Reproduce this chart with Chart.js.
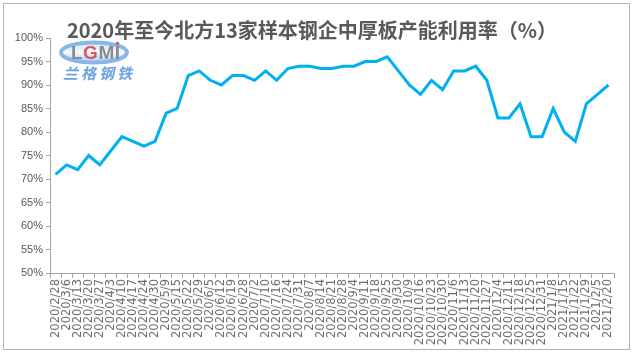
<!DOCTYPE html>
<html>
<head>
<meta charset="utf-8">
<script src="https://cdn.jsdelivr.net/npm/chart.js@4"></script>
<style>
  html, body { margin: 0; padding: 0; background: #fff; }
  canvas { display: block; }
</style>
</head>
<body>
<canvas id="utilChart" width="633" height="356"></canvas>
<script>
// weekly sample dates
const weeks = [
    '2020/2/28', '2020/3/6', '2020/3/13', '2020/3/20', '2020/3/27', '2020/4/3', '2020/4/10',
    '2020/4/17', '2020/4/24', '2020/4/30', '2020/5/9', '2020/5/15', '2020/5/22', '2020/5/29',
    '2020/6/5', '2020/6/12', '2020/6/19', '2020/6/28', '2020/7/2', '2020/7/10', '2020/7/16',
    '2020/7/24', '2020/7/31', '2020/8/7', '2020/8/14', '2020/8/21', '2020/8/28', '2020/9/4',
    '2020/9/11', '2020/9/18', '2020/9/25', '2020/9/30', '2020/10/9', '2020/10/16', '2020/10/23',
    '2020/10/30', '2020/11/6', '2020/11/13', '2020/11/20', '2020/11/27', '2020/12/4', '2020/12/11',
    '2020/12/18', '2020/12/25', '2020/12/31', '2021/1/8', '2021/1/15', '2021/1/22', '2021/1/29',
    '2021/2/5', '2021/2/20'
];

// capacity utilisation, %
const utilisation = [
    71, 73, 72, 75, 73, 76, 79, 78, 77, 78,
    84, 85, 92, 93, 91, 90, 92, 92, 91, 93,
    91, 93.5, 94, 94, 93.5, 93.5, 94, 94, 95, 95,
    96, 93, 90, 88, 91, 89, 93, 93, 94, 91,
    83, 83, 86, 79, 79, 85, 80, 78, 86, 88, 90
];

const yMin = 50;
const yMax = 100;
const yStep = 5;

const chartTitle = '2020年至今北方13家样本钢企中厚板产能利用率（%）';
const logoText = 'LGMI';
const logoName = '兰格钢铁';

const axisGrey = '#a6a6a6';
const textGrey = '#595959';

// outer frame round the whole chart
const framePlugin = {
    id: 'frame',
    beforeDraw: (chart) => {
        const ctx = chart.ctx;
        ctx.save();
        ctx.fillStyle = '#fff';
        ctx.fillRect(0, 0, chart.width, chart.height);
        ctx.strokeStyle = '#b4b4b4';
        ctx.lineWidth = 1;
        ctx.strokeRect(3.5, 3.5, 626, 346);
        ctx.restore();
    }
};

// LGMI watermark in the top left of the plot
const logoPlugin = {
    id: 'logo',
    afterDraw: (chart) => {
        const ctx = chart.ctx;
        ctx.save();
        const cx = 94, cy = 52.5;
        const grad = ctx.createLinearGradient(0, cy - 11, 0, cy + 11);
        grad.addColorStop(0, '#cfe3f7');
        grad.addColorStop(0.5, '#f4f9fe');
        grad.addColorStop(1, '#9fc6ec');
        ctx.beginPath();
        ctx.ellipse(cx, cy, 33, 10, 0, 0, Math.PI * 2);
        ctx.fillStyle = grad;
        ctx.fill();
        ctx.lineWidth = 4;
        ctx.strokeStyle = '#86b7e8';
        ctx.stroke();

        ctx.font = 'bold 19px "Liberation Sans"';
        ctx.textBaseline = 'middle';
        const colours = ['#8a8a8a', '#e0535f', '#8a8a8a', '#8a8a8a'];
        let x = 71;
        for (let i = 0; i < logoText.length; i++) {
            ctx.fillStyle = colours[i];
            ctx.fillText(logoText[i], x, cy + 1);
            x += ctx.measureText(logoText[i]).width + 0.5;
        }
        ctx.fillStyle = '#e0535f';
        ctx.beginPath();
        ctx.arc(x - 3, cy - 9, 1.8, 0, Math.PI * 2);
        ctx.fill();

        ctx.font = 'italic bold 15px "Noto Sans CJK SC"';
        ctx.fillStyle = '#6aa2e2';
        ctx.textAlign = 'left';
        let nx = 63;
        for (const ch of logoName) {
            ctx.fillText(ch, nx, 73);
            nx += 18;
        }
        ctx.restore();
    }
};

new Chart(document.getElementById('utilChart'), {
    type: 'line',
    data: {
        labels: weeks,
        datasets: [{
            data: utilisation,
            borderColor: '#00b0f0',
            borderWidth: 3,
            pointRadius: 0,
            tension: 0,
            fill: false
        }]
    },
    options: {
        responsive: false,
        animation: false,
        layout: {
            padding: {left: 10, right: 19, top: 10, bottom: 0}
        },
        plugins: {
            legend: {display: false},
            tooltip: {enabled: false},
            title: {
                display: true,
                text: chartTitle,
                color: textGrey,
                font: {family: '"Noto Sans CJK SC"', size: 20, weight: 'bold', lineHeight: 0.8},
                padding: {top: 12, bottom: 0}
            }
        },
        scales: {
            x: {
                type: 'category',
                offset: true,
                afterFit: (scale) => {
                    scale.height = 83;
                },
                grid: {
                    offset: true,
                    drawOnChartArea: false,
                    drawTicks: true,
                    tickLength: 5,
                    color: axisGrey
                },
                border: {display: true, color: axisGrey, width: 1},
                ticks: {
                    autoSkip: false,
                    maxRotation: 90,
                    minRotation: 90,
                    padding: 1,
                    color: '#6e6e6e',
                    font: {family: '"DejaVu Sans"', size: 11.5}
                }
            },
            y: {
                min: yMin,
                max: yMax,
                afterFit: (scale) => {
                    scale.width = 40;
                },
                grid: {
                    drawOnChartArea: false,
                    drawTicks: true,
                    tickLength: 4,
                    color: axisGrey
                },
                border: {display: true, color: axisGrey, width: 1},
                ticks: {
                    stepSize: yStep,
                    padding: 3,
                    color: textGrey,
                    font: {family: '"Liberation Sans"', size: 11},
                    callback: (value) => value + '%'
                }
            }
        }
    },
    plugins: [framePlugin, logoPlugin]
});
</script>
</body>
</html>
